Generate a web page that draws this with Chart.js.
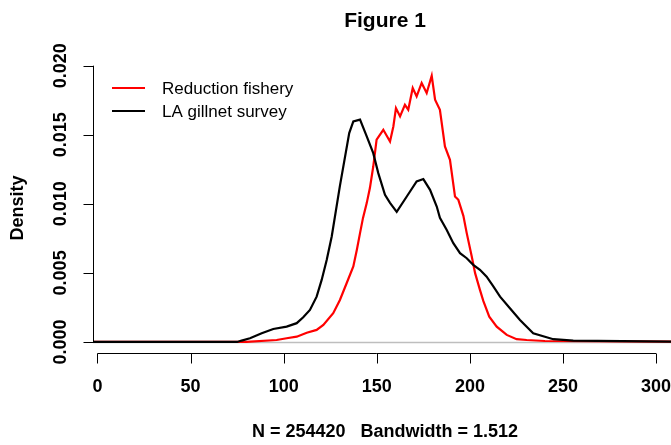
<!DOCTYPE html>
<html>
<head>
<meta charset="utf-8">
<script src="https://cdn.jsdelivr.net/npm/chart.js@4.4.1/dist/chart.umd.min.js"></script>
<style>
  html, body { margin: 0; padding: 0; background: #fff; }
  #wrap { width: 671px; height: 445px; }
</style>
</head>
<body>
<div id="wrap"><canvas id="densChart" width="671" height="445"></canvas></div>
<script>
// values
const redX = [-5, 80, 96.2, 101.6, 107.0, 112.4, 117.7, 121.3, 126.6, 130.2, 133.8, 137.4, 139.3, 141.0, 142.6, 144.6, 146.3, 148.1, 149.9, 153.5, 157.1, 158.9, 160.3, 162.5, 165.1, 166.9, 169.3, 171.4, 174.1, 176.8, 179.5, 181.3, 183.9, 186.6, 189.3, 192.0, 193.8, 196.5, 198.3, 201.0, 202.8, 205.4, 207.2, 210.4, 214.4, 219.8, 225.1, 230.5, 240.3, 330];
const redY = [0, 0, 0.00014, 0.00027, 0.00038, 0.00067, 0.00087, 0.00123, 0.00208, 0.00304, 0.00425, 0.00546, 0.00667, 0.00788, 0.00898, 0.01005, 0.01114, 0.0127, 0.01464, 0.01536, 0.01451, 0.0156, 0.01693, 0.01633, 0.01717, 0.01681, 0.01838, 0.01777, 0.01875, 0.01802, 0.01927, 0.01754, 0.01681, 0.01415, 0.01319, 0.01053, 0.01029, 0.00913, 0.00788, 0.00618, 0.00498, 0.00377, 0.00297, 0.00183, 0.00111, 0.00051, 0.0002, 0.00014, 0.00007, 0];

const blackX = [-5, 75, 77.4, 81.9, 88.2, 94.4, 101.6, 107.0, 110.5, 114.1, 117.7, 120.4, 123.1, 125.8, 130.2, 135.2, 137.4, 141.0, 144.6, 148.1, 150.8, 154.4, 157.1, 160.7, 166.1, 171.4, 175.0, 178.6, 182.2, 183.9, 187.5, 191.1, 194.7, 198.3, 201.8, 205.4, 209.0, 212.4, 216.2, 221.5, 226.9, 234.0, 241.2, 244.8, 255.5, 330];
const blackY = [0, 0, 0.0001, 0.00027, 0.00063, 0.00094, 0.00111, 0.00136, 0.00179, 0.00232, 0.00328, 0.00449, 0.00594, 0.00763, 0.0113, 0.01512, 0.01596, 0.01609, 0.01488, 0.01367, 0.01222, 0.01065, 0.01007, 0.00942, 0.01053, 0.01162, 0.01179, 0.01101, 0.0098, 0.00898, 0.00812, 0.00715, 0.00643, 0.00606, 0.00558, 0.00522, 0.00473, 0.00406, 0.00328, 0.00244, 0.00159, 0.00063, 0.00034, 0.0002, 0.0001, 0];

const xTicks = [0, 50, 100, 150, 200, 250, 300];
const yTicks = [0, 0.005, 0.010, 0.015, 0.020];
const yTickLabels = ['0.000', '0.005', '0.010', '0.015', '0.020'];
const seriesNames = ['Reduction fishery', 'LA gillnet survey'];
const seriesColors = ['#ff0000', '#000000'];

const FONT = '"Liberation Sans", Arial, sans-serif';

function pts(xs, ys){ return xs.map((x, i) => ({ x: x, y: ys[i] })); }

// R-style detached axes, title, legend
const rStyle = {
  id: 'rStyle',
  beforeDatasetsDraw(chart){
    const ctx = chart.ctx, xs = chart.scales.x, ys = chart.scales.y, a = chart.chartArea;
    ctx.save();
    ctx.strokeStyle = '#bebebe';
    ctx.lineWidth = 1.5;
    const y0 = Math.round(ys.getPixelForValue(0)) + 0.5;
    ctx.beginPath(); ctx.moveTo(a.left, y0); ctx.lineTo(a.right, y0); ctx.stroke();
    ctx.restore();
  },
  afterDraw(chart){
    const ctx = chart.ctx, xs = chart.scales.x, ys = chart.scales.y, a = chart.chartArea;
    ctx.save();
    ctx.strokeStyle = '#000';
    ctx.lineWidth = 1;
    ctx.fillStyle = '#000';

    // x axis
    const ax = a.bottom + 0.5;
    ctx.beginPath();
    ctx.moveTo(xs.getPixelForValue(xTicks[0]), ax);
    ctx.lineTo(xs.getPixelForValue(xTicks[xTicks.length - 1]), ax);
    xTicks.forEach(t => {
      const px = Math.round(xs.getPixelForValue(t)) + 0.5;
      ctx.moveTo(px, ax); ctx.lineTo(px, ax + 10);
    });
    ctx.stroke();
    ctx.font = 'bold 18px ' + FONT;
    ctx.textAlign = 'center'; ctx.textBaseline = 'middle';
    xTicks.forEach(t => ctx.fillText(String(t), xs.getPixelForValue(t), 387));

    // y axis
    const ay = a.left + 0.5;
    ctx.beginPath();
    ctx.moveTo(ay, ys.getPixelForValue(yTicks[0]));
    ctx.lineTo(ay, ys.getPixelForValue(yTicks[yTicks.length - 1]));
    yTicks.forEach(t => {
      const py = Math.round(ys.getPixelForValue(t)) + 0.5;
      ctx.moveTo(ay, py); ctx.lineTo(ay - 10, py);
    });
    ctx.stroke();
    yTicks.forEach((t, i) => {
      ctx.save();
      ctx.translate(61, ys.getPixelForValue(t));
      ctx.rotate(-Math.PI / 2);
      ctx.fillText(yTickLabels[i], 0, 0);
      ctx.restore();
    });

    // axis titles
    ctx.save();
    ctx.translate(18, 208);
    ctx.rotate(-Math.PI / 2);
    ctx.fillText('Density', 0, 0);
    ctx.restore();
    ctx.fillText('N = 254420   Bandwidth = 1.512', 385, 432);

    ctx.font = 'bold 21px ' + FONT;
    ctx.fillText('Figure 1', 385, 21);

    // legend
    ctx.font = '17px ' + FONT;
    ctx.textAlign = 'left';
    ctx.lineWidth = 2;
    seriesNames.forEach((name, i) => {
      const y = 88 + i * 23;
      ctx.strokeStyle = seriesColors[i];
      ctx.beginPath(); ctx.moveTo(112, y); ctx.lineTo(145, y); ctx.stroke();
      ctx.fillStyle = '#000';
      ctx.fillText(name, 162, y + 1);
    });
    ctx.restore();
  }
};

new Chart(document.getElementById('densChart'), {
  type: 'line',
  data: {
    datasets: [
      { label: seriesNames[0], data: pts(redX, redY), borderColor: seriesColors[0], borderWidth: 2.2, pointRadius: 0, tension: 0, order: 2 },
      { label: seriesNames[1], data: pts(blackX, blackY), borderColor: seriesColors[1], borderWidth: 2.2, pointRadius: 0, tension: 0, order: 1 }
    ]
  },
  options: {
    responsive: false,
    animation: false,
    layout: { padding: { left: 93, right: 0, top: 56, bottom: 92 } },
    scales: {
      x: { type: 'linear', min: -2.4, max: 308, display: false },
      y: { type: 'linear', min: -0.0008, max: 0.0207, display: false }
    },
    plugins: { legend: { display: false }, tooltip: { enabled: false } }
  },
  plugins: [rStyle]
});
</script>
</body>
</html>
